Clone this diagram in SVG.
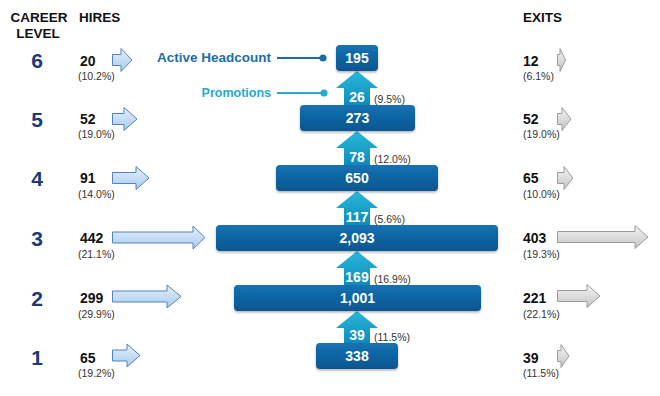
<svg xmlns="http://www.w3.org/2000/svg" width="660" height="396" viewBox="0 0 660 396">
<defs>
<linearGradient id="gBox" x1="0" y1="0" x2="0" y2="1"><stop offset="0" stop-color="#1472B3"/><stop offset="1" stop-color="#0A5690"/></linearGradient>
<linearGradient id="gUp" x1="0" y1="0" x2="0" y2="1"><stop offset="0" stop-color="#2BB8DC"/><stop offset="1" stop-color="#0B8CB8"/></linearGradient>
<linearGradient id="gHire" x1="0" y1="0" x2="0" y2="1"><stop offset="0" stop-color="#E6F0FB"/><stop offset="1" stop-color="#A8CBEE"/></linearGradient>
<linearGradient id="gExit" x1="0" y1="0" x2="0" y2="1"><stop offset="0" stop-color="#F4F4F4"/><stop offset="1" stop-color="#C4C4C4"/></linearGradient>
<filter id="sh" x="-10%" y="-20%" width="120%" height="150%"><feDropShadow dx="0" dy="1.5" stdDeviation="1.2" flood-color="#000" flood-opacity="0.3"/></filter>
</defs>
<style>
text{font-family:"Liberation Sans",Arial,sans-serif}
.hd{font-size:13.5px;font-weight:bold;fill:#111}
.lvl{font-size:21px;font-weight:bold;fill:#1B3A78;text-anchor:middle}
.val{font-size:14px;font-weight:bold;fill:#111}
.pct{font-size:10.5px;fill:#333}
.box{fill:url(#gBox);filter:url(#sh)}
.bt{font-size:14px;font-weight:bold;fill:#fff;text-anchor:middle}
.up{fill:url(#gUp)}
.hire{fill:url(#gHire);stroke:#4F83C0;stroke-width:1}
.exit{fill:url(#gExit);stroke:#9C9C9C;stroke-width:1}
.lead1{stroke:#1B6FA8;stroke-width:2.2;fill:none}
.lead2{stroke:#26AAD4;stroke-width:2.2;fill:none}
</style>
<rect width="660" height="396" fill="#fff"/>
<g id="headers">
<text class="hd" x="39" y="22" text-anchor="middle">CAREER</text>
<text class="hd" x="38" y="38" text-anchor="middle">LEVEL</text>
<text class="hd" x="79" y="22">HIRES</text>
<text class="hd" x="523" y="22">EXITS</text>
</g>
<g id="levels">
<text class="lvl" x="37" y="68">6</text>
<text class="lvl" x="37" y="127">5</text>
<text class="lvl" x="37" y="186">4</text>
<text class="lvl" x="37" y="246">3</text>
<text class="lvl" x="37" y="306">2</text>
<text class="lvl" x="37" y="365">1</text>
</g>
<g id="hires">
<text class="val" x="80" y="66">20</text><text class="pct" x="78" y="80">(10.2%)</text>
<path class="hire" d="M112.5,54.5 H121 V48.5 L132,60 L121,71.5 V65.5 H112.5 Z"/>
<text class="val" x="80" y="124">52</text><text class="pct" x="78" y="138">(19.0%)</text>
<path class="hire" d="M112.5,113.5 H124 V107.5 L137,119 L124,130.5 V124.5 H112.5 Z"/>
<text class="val" x="80" y="183">91</text><text class="pct" x="78" y="198">(14.0%)</text>
<path class="hire" d="M112.5,172.5 H136 V166.5 L149,178 L136,189.5 V183.5 H112.5 Z"/>
<text class="val" x="80" y="243">442</text><text class="pct" x="78" y="258">(21.1%)</text>
<path class="hire" d="M112.5,232 H193 V226 L205,237.5 L193,249 V243 H112.5 Z"/>
<text class="val" x="80" y="303">299</text><text class="pct" x="78" y="318">(29.9%)</text>
<path class="hire" d="M112.5,291 H167 V285 L181,296.5 L167,308 V302 H112.5 Z"/>
<text class="val" x="80" y="363">65</text><text class="pct" x="78" y="377">(19.2%)</text>
<path class="hire" d="M112.5,350 H127 V344 L140,355.5 L127,367 V361 H112.5 Z"/>
</g>
<g id="exits">
<text class="val" x="523" y="66">12</text><text class="pct" x="523" y="80">(6.1%)</text>
<path class="exit" d="M557.5,54.5 H560 V48.5 L565.5,60 L560,71.5 V65.5 H557.5 Z"/>
<text class="val" x="523" y="124">52</text><text class="pct" x="523" y="138">(19.0%)</text>
<path class="exit" d="M557.5,113.5 H562 V107.5 L571,119 L562,130.5 V124.5 H557.5 Z"/>
<text class="val" x="523" y="183">65</text><text class="pct" x="523" y="198">(10.0%)</text>
<path class="exit" d="M557.5,172.5 H564 V166.5 L573,178 L564,189.5 V183.5 H557.5 Z"/>
<text class="val" x="523" y="243">403</text><text class="pct" x="523" y="258">(19.3%)</text>
<path class="exit" d="M557.5,231.5 H635 V225.5 L648,237 L635,248.5 V242.5 H557.5 Z"/>
<text class="val" x="523" y="303">221</text><text class="pct" x="523" y="318">(22.1%)</text>
<path class="exit" d="M557.5,290.5 H587 V284.5 L600,296 L587,307.5 V301.5 H557.5 Z"/>
<text class="val" x="523" y="363">39</text><text class="pct" x="523" y="377">(11.5%)</text>
<path class="exit" d="M557.5,350.5 H561 V344.5 L569,356 L561,367.5 V361.5 H557.5 Z"/>
</g>
<g id="connectors">
<path class="up" d="M357,71 L378,88 L370,88 L370,105 L344,105 L344,88 L336,88 Z"/>
<path class="up" d="M357,131 L378,148 L370,148 L370,165 L344,165 L344,148 L336,148 Z"/>
<path class="up" d="M357,191 L378,208 L370,208 L370,225 L344,225 L344,208 L336,208 Z"/>
<path class="up" d="M357,251 L378,268 L370,268 L370,285 L344,285 L344,268 L336,268 Z"/>
<path class="up" d="M357,311 L378,328 L370,328 L370,343 L344,343 L344,328 L336,328 Z"/>
<line class="lead1" x1="277" y1="58" x2="323" y2="58"/><circle cx="323" cy="58" r="3.6" fill="#1B6FA8"/>
<line class="lead2" x1="277" y1="93" x2="324" y2="93"/><circle cx="324" cy="93" r="3.6" fill="#26AAD4"/>
</g>
<g id="promotions">
<text class="bt" x="357" y="102">26</text><text class="pct" x="374" y="103">(9.5%)</text>
<text class="bt" x="357" y="162">78</text><text class="pct" x="374" y="163">(12.0%)</text>
<text class="bt" x="357" y="222">117</text><text class="pct" x="374" y="223">(5.6%)</text>
<text class="bt" x="357" y="282">169</text><text class="pct" x="374" y="283">(16.9%)</text>
<text class="bt" x="357" y="340">39</text><text class="pct" x="374" y="341">(11.5%)</text>
</g>
<g id="labels">
<text x="157" y="62" textLength="114" lengthAdjust="spacingAndGlyphs" font-size="13" font-weight="bold" fill="#1B6FA8">Active Headcount</text>
<text x="271" y="97" text-anchor="end" font-size="12.5" font-weight="bold" fill="#26AAD4">Promotions</text>
</g>
<g id="box6"><rect class="box" x="336" y="45" width="42" height="26" rx="4"/><text class="bt" x="357" y="63">195</text></g>
<g id="box5"><rect class="box" x="300" y="105" width="115" height="26" rx="4"/><text class="bt" x="357.5" y="123">273</text></g>
<g id="box4"><rect class="box" x="276" y="165" width="162" height="26" rx="4"/><text class="bt" x="357" y="183">650</text></g>
<g id="box3"><rect class="box" x="216" y="225" width="282" height="26" rx="4"/><text class="bt" x="357" y="243">2,093</text></g>
<g id="box2"><rect class="box" x="234" y="285" width="247" height="26" rx="4"/><text class="bt" x="357.5" y="303">1,001</text></g>
<g id="box1"><rect class="box" x="316" y="343" width="82" height="26" rx="4"/><text class="bt" x="357" y="361">338</text></g>
</svg>
